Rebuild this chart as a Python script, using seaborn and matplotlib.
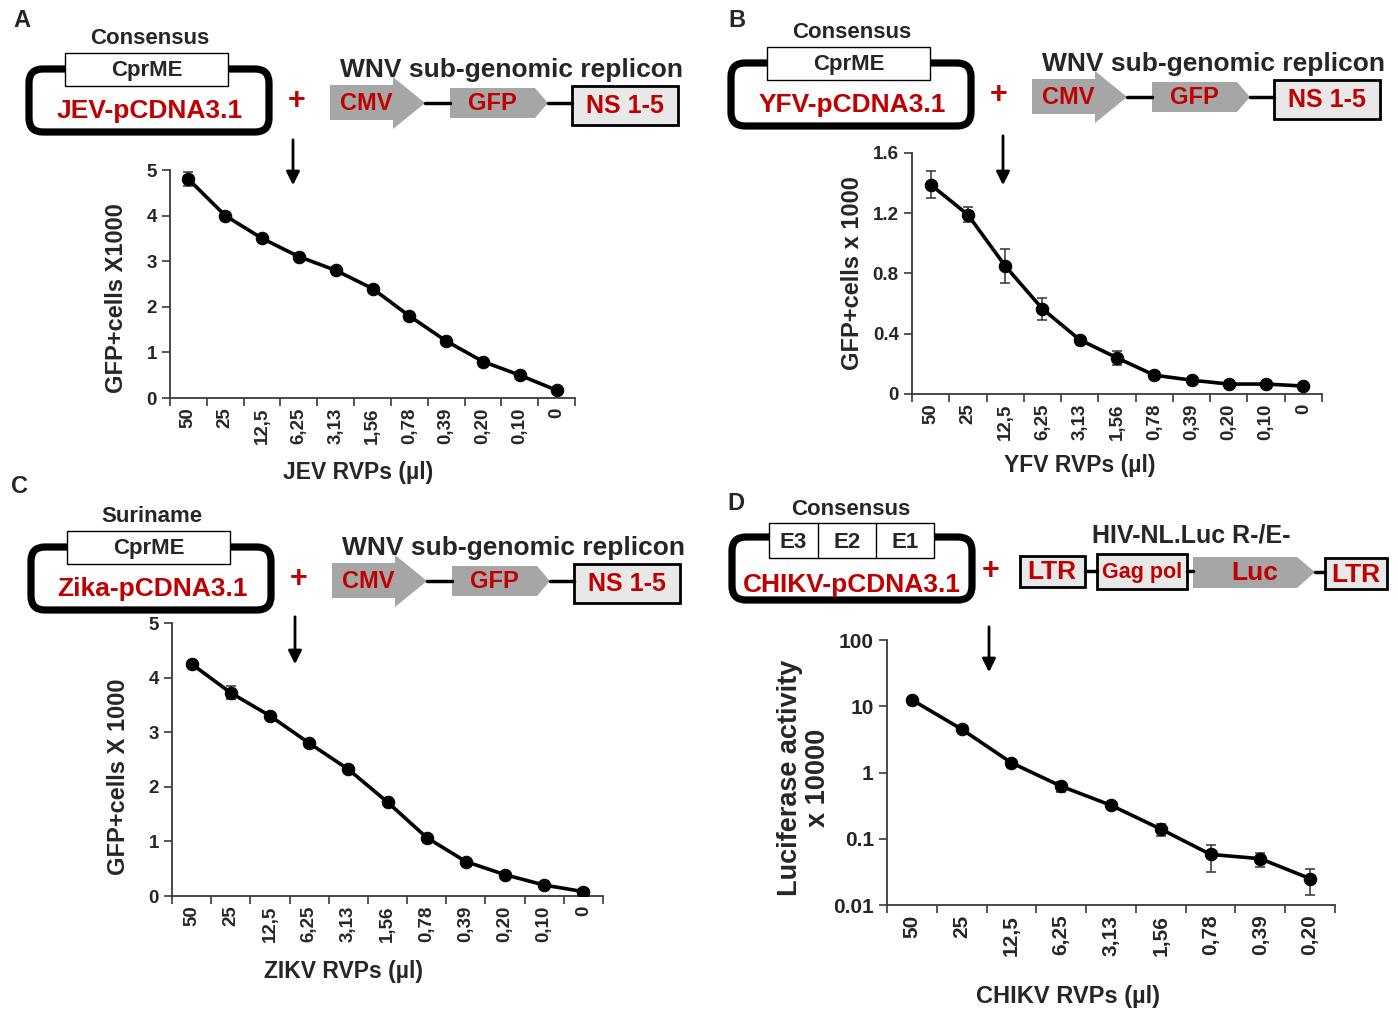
import numpy as np
import pandas as pd
import matplotlib
matplotlib.use('Agg')
import matplotlib.pyplot as plt
import seaborn as sns
from matplotlib.patches import Rectangle, FancyBboxPatch, Polygon
from matplotlib.ticker import NullLocator

# RVP dilutions (µl)
dil_labels = ['50', '25', '12,5', '6,25', '3,13', '1,56', '0,78', '0,39', '0,20', '0,10', '0']
chikv_labels = dil_labels[:9]

# A: JEV, GFP+ cells x1000
jev_vals = [4.8, 4.0, 3.5, 3.1, 2.8, 2.4, 1.8, 1.25, 0.8, 0.5, 0.17]
jev_err = [0.15, 0.05, 0.03, 0.06, 0.04, 0.04, 0.03, 0.03, 0.03, 0.02, 0.02]

# B: YFV, GFP+ cells x1000
yfv_vals = [1.39, 1.19, 0.85, 0.565, 0.36, 0.24, 0.125, 0.092, 0.066, 0.066, 0.053]
yfv_err = [0.09, 0.05, 0.11, 0.075, 0.02, 0.045, 0.015, 0.01, 0.01, 0.01, 0.005]

# C: ZIKV, GFP+ cells x1000
zikv_vals = [4.25, 3.72, 3.3, 2.8, 2.32, 1.72, 1.07, 0.63, 0.39, 0.2, 0.08]
zikv_err = [0.05, 0.12, 0.05, 0.04, 0.05, 0.05, 0.04, 0.03, 0.03, 0.02, 0.02]

# D: CHIKV, luciferase x10000 (log scale)
chikv_vals = [12.5, 4.5, 1.4, 0.62, 0.32, 0.14, 0.058, 0.05, 0.025]
chikv_low = [11.5, 4.1, 1.25, 0.5, 0.29, 0.11, 0.032, 0.038, 0.014]
chikv_high = [13.5, 4.9, 1.55, 0.72, 0.35, 0.165, 0.08, 0.062, 0.035]

W, H = 1398, 1013
RED = '#c00000'
GRAY = '#a6a6a6'
LIGHT = '#e8e8e8'
AXC = '#3a3a3a'

sns.set_style('ticks')
plt.rcParams['font.family'] = ['Liberation Sans', 'DejaVu Sans']
plt.rcParams['font.weight'] = 'bold'

fig = plt.figure(figsize=(W / 100, H / 100), dpi=100)


def px_axes(l, t, r, b):
    return fig.add_axes([l / W, 1 - b / H, (r - l) / W, (b - t) / H])


def dose_plot(ax, labels, vals, yerr, tick_fs=13.5):
    df = pd.DataFrame({'pos': np.arange(len(labels)), 'val': vals})
    ax.errorbar(df['pos'], df['val'], yerr=yerr, fmt='none', ecolor='#333333',
                elinewidth=1.1, capsize=3.5, capthick=1.1, zorder=1)
    sns.lineplot(data=df, x='pos', y='val', ax=ax, color='black', lw=2.6,
                 marker='o', markersize=9, markeredgecolor='black', zorder=3)
    n = len(labels)
    ax.set_xlim(-0.5, n - 0.5)
    ax.set_xticks(np.arange(n + 1) - 0.5)
    ax.set_xticklabels([])
    ax.set_xticks(np.arange(n), minor=True)
    ax.set_xticklabels(labels, minor=True, rotation=90, fontsize=tick_fs,
                       fontweight='bold', va='top')
    ax.tick_params(axis='x', which='minor', length=0, pad=7)
    ax.tick_params(axis='x', which='major', length=6, width=1.2, color=AXC)
    ax.tick_params(axis='y', length=6, width=1.2, color=AXC, labelsize=tick_fs)
    for lab in ax.get_yticklabels():
        lab.set_fontweight('bold')
    sns.despine(ax=ax)
    for s in ['left', 'bottom']:
        ax.spines[s].set_color(AXC)
        ax.spines[s].set_linewidth(1.3)
    ax.set_facecolor('none')


def axis_labels(ax, xl, yl, xpos, ypos, fs=16.5, yfs=17):
    ax.set_xlabel(xl, fontsize=fs, fontweight='bold', va='center')
    ax.xaxis.set_label_coords(*xpos)
    ax.set_ylabel(yl, fontsize=yfs, fontweight='bold', va='center')
    ax.yaxis.set_label_coords(*ypos)


# ---- panel A
axA = px_axes(170, 170, 575, 398)
dose_plot(axA, dil_labels, jev_vals, jev_err)
axA.set_ylim(0, 5)
axA.set_yticks(range(6))
axis_labels(axA, 'JEV RVPs (µl)', 'GFP+cells X1000', (0.464, -0.325), (-0.133, 0.44))

# ---- panel B
axB = px_axes(912, 153, 1322, 394)
dose_plot(axB, dil_labels, yfv_vals, yfv_err)
axB.set_ylim(0, 1.6)
axB.set_yticks([0, 0.4, 0.8, 1.2, 1.6])
axB.set_yticklabels(['0', '0.4', '0.8', '1.2', '1.6'], fontweight='bold')
axis_labels(axB, 'YFV RVPs (µl)', 'GFP+cells x 1000', (0.41, -0.295), (-0.146, 0.5))

# ---- panel C
axC = px_axes(172, 623, 603, 896)
dose_plot(axC, dil_labels, zikv_vals, zikv_err)
axC.set_ylim(0, 5)
axC.set_yticks(range(6))
axis_labels(axC, 'ZIKV RVPs (µl)', 'GFP+cells X 1000', (0.397, -0.278), (-0.125, 0.436))

# ---- panel D
axD = px_axes(887, 640, 1335, 905)
yerrD = [np.subtract(chikv_vals, chikv_low), np.subtract(chikv_high, chikv_vals)]
dose_plot(axD, chikv_labels, chikv_vals, yerrD, tick_fs=15)
axD.set_yscale('log')
axD.set_ylim(0.01, 100)
axD.set_yticks([0.01, 0.1, 1, 10, 100])
axD.set_yticklabels(['0.01', '0.1', '1', '10', '100'], fontweight='bold')
axD.yaxis.set_minor_locator(NullLocator())
axD.tick_params(axis='y', labelsize=15)
axis_labels(axD, 'CHIKV RVPs (µl)', 'Luciferase activity\nx 10000', (0.404, -0.347),
            (-0.185, 0.48), fs=17, yfs=19.5)
axD.yaxis.label.set_linespacing(1.1)

# ---- schematic overlay in pixel coordinates
ov = fig.add_axes([0, 0, 1, 1])
ov.set_xlim(0, W)
ov.set_ylim(H, 0)
ov.axis('off')
ov.patch.set_alpha(0)


def plasmid(dx, dy):
    ov.add_patch(FancyBboxPatch((29 + dx, 69 + dy), 240, 63,
                                boxstyle='round,pad=0,rounding_size=14',
                                fill=False, lw=5.2, ec='black'))


def wnv_panel(dx, dy, strain, name):
    plasmid(dx, dy)
    ov.add_patch(Rectangle((65 + dx, 53 + dy), 163, 33, fc='white', ec='black', lw=1))
    ov.text(147 + dx, 70 + dy, 'CprME', ha='center', va='center', fontsize=16)
    ov.text(150 + dx, 38 + dy, strain, ha='center', va='center', fontsize=16)
    ov.text(150 + dx, 111 + dy, name, ha='center', va='center', fontsize=19,
            color=RED)
    ov.text(297 + dx, 101 + dy, '+', ha='center', va='center', fontsize=22, color=RED)
    ov.text(512 + dx, 70 + dy, 'WNV sub-genomic replicon', ha='center', va='center',
            fontsize=19)
    cmv = [(330, 85), (393, 85), (393, 77), (425, 103), (393, 129), (393, 120), (330, 120)]
    ov.add_patch(Polygon([(x + dx, y + dy) for x, y in cmv], fc=GRAY, ec='none'))
    ov.plot([425 + dx, 450 + dx], [103 + dy, 103 + dy], color='black', lw=2.5)
    gfp = [(450, 88), (535, 88), (548, 103), (535, 118), (450, 118)]
    ov.add_patch(Polygon([(x + dx, y + dy) for x, y in gfp], fc=GRAY, ec='none'))
    ov.plot([548 + dx, 572 + dx], [103 + dy, 103 + dy], color='black', lw=2.5)
    ov.add_patch(Rectangle((572 + dx, 86 + dy), 106, 39, fc=LIGHT, ec='black', lw=2))
    ov.text(366 + dx, 103 + dy, 'CMV', ha='center', va='center', fontsize=17, color=RED)
    ov.text(492 + dx, 103 + dy, 'GFP', ha='center', va='center', fontsize=17, color=RED)
    ov.text(625 + dx, 106 + dy, 'NS 1-5', ha='center', va='center', fontsize=18, color=RED)


wnv_panel(0, 0, 'Consensus', 'JEV-pCDNA3.1')
wnv_panel(702, -6, 'Consensus', 'YFV-pCDNA3.1')
wnv_panel(2, 478, 'Suriname', 'Zika-pCDNA3.1')

# panel D schematic
plasmid(703, 468)
ov.add_patch(Rectangle((769, 523), 165, 35, fc='white', ec='black', lw=1))
ov.plot([818, 818], [523, 558], color='black', lw=1)
ov.plot([876, 876], [523, 558], color='black', lw=1)
for x, t in [(793, 'E3'), (847, 'E2'), (905, 'E1')]:
    ov.text(x, 542, t, ha='center', va='center', fontsize=16)
ov.text(851, 509, 'Consensus', ha='center', va='center', fontsize=16)
ov.text(852, 585, 'CHIKV-pCDNA3.1', ha='center', va='center', fontsize=19,
        color=RED)
ov.text(991, 571, '+', ha='center', va='center', fontsize=22, color=RED)
ov.text(1191, 535, 'HIV-NL.Luc R-/E-', ha='center', va='center', fontsize=18)
ov.add_patch(Rectangle((1020, 556), 65, 31, fc=LIGHT, ec='black', lw=2))
ov.plot([1085, 1097], [571, 571], color='black', lw=2.5)
ov.add_patch(Rectangle((1097, 554), 90, 35, fc=LIGHT, ec='black', lw=2))
ov.plot([1187, 1193], [571, 571], color='black', lw=2.5)
ov.add_patch(Polygon([(1193, 557), (1297, 557), (1315, 572), (1297, 588), (1193, 588)],
                     fc=GRAY, ec='none'))
ov.plot([1315, 1325], [572, 572], color='black', lw=2.5)
ov.add_patch(Rectangle((1325, 558), 62, 31, fc=LIGHT, ec='black', lw=2))
for x, y, t, fs in [(1052, 572, 'LTR', 19), (1142, 572, 'Gag pol', 15.5),
                    (1255, 573, 'Luc', 19), (1356, 575, 'LTR', 19)]:
    ov.text(x, y, t, ha='center', va='center', fontsize=fs, color=RED)

# panel letters
for x, y, t in [(22, 20, 'A'), (737, 20, 'B'), (20, 486, 'C'), (736, 503, 'D')]:
    ov.text(x, y, t, ha='center', va='center', fontsize=17)

# down arrows
for x, y0, y1 in [(293, 137, 188), (1003, 133, 188), (295, 614, 667), (989, 624, 675)]:
    ov.annotate('', xy=(x, y1), xytext=(x, y0),
                arrowprops=dict(arrowstyle='-|>', color='black', lw=2, mutation_scale=20))

fig.savefig('out.png', dpi=100)
